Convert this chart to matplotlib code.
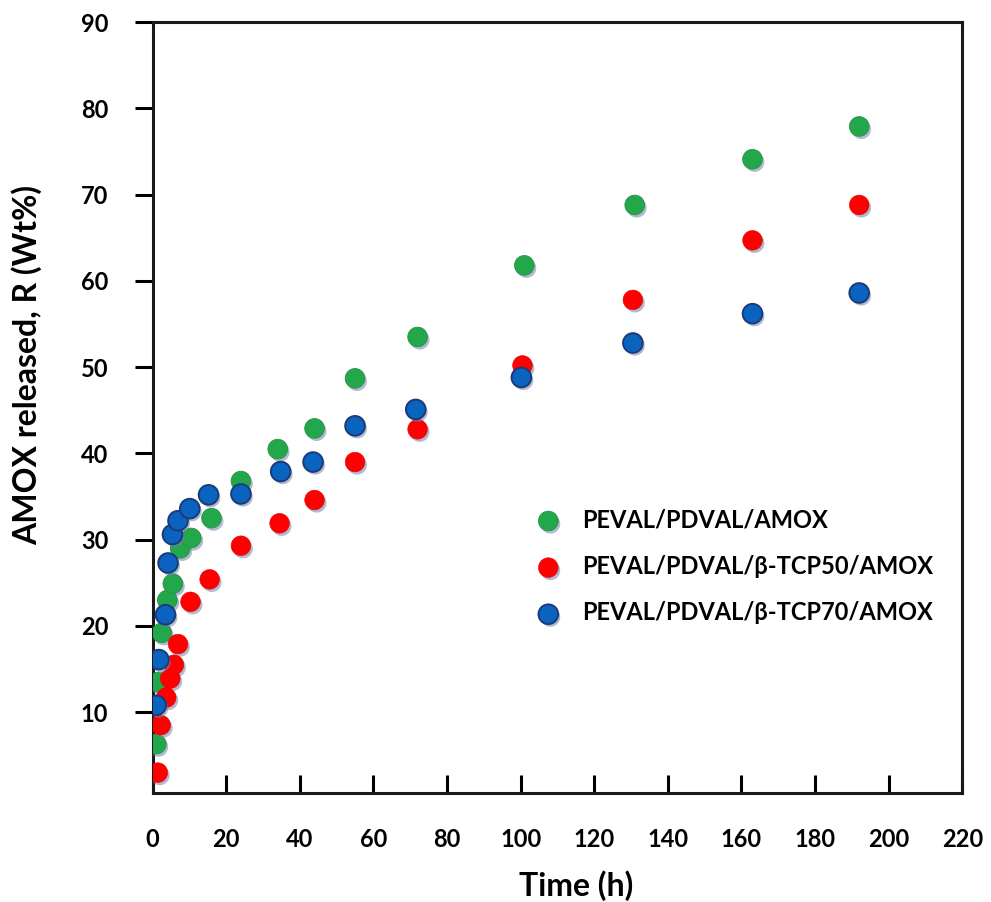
import matplotlib
matplotlib.use("Agg")
import matplotlib.pyplot as plt
import matplotlib.patheffects as pe

plt.rcParams['font.family'] = ['Lato', 'DejaVu Sans']
plt.rcParams['font.weight'] = 'bold'

# release data (time in h, AMOX released in wt%)
t_green = [1, 1.5, 2.5, 4, 5.5, 7.5, 10.5, 16, 24, 34, 44, 55, 72, 101, 131, 163, 192]
r_green = [6.3, 13.5, 19.2, 23.0, 24.9, 29.0, 30.2, 32.5, 36.8, 40.5, 42.9, 48.7, 53.5, 61.8, 68.8, 74.1, 77.9]

t_red = [1.4, 2.2, 3.7, 4.8, 5.8, 6.9, 10.3, 15.5, 24, 34.5, 44, 55, 72, 100.5, 130.5, 163, 192]
r_red = [3.0, 8.5, 11.7, 13.9, 15.5, 17.9, 22.8, 25.4, 29.3, 31.9, 34.6, 39.0, 42.8, 50.2, 57.8, 64.7, 68.8]

t_blue = [1.0, 1.7, 3.5, 4.2, 5.4, 6.9, 10.1, 15.2, 24, 34.8, 43.6, 55, 71.5, 100.2, 130.5, 163, 192]
r_blue = [10.8, 16.1, 21.3, 27.3, 30.6, 32.2, 33.6, 35.2, 35.3, 37.9, 39.0, 43.2, 45.1, 48.8, 52.8, 56.2, 58.6]

labels = ['PEVAL/PDVAL/AMOX',
          'PEVAL/PDVAL/\u03b2-TCP50/AMOX',
          'PEVAL/PDVAL/\u03b2-TCP70/AMOX']
x_ticks = list(range(0, 221, 20))
y_ticks = list(range(10, 91, 10))

fig = plt.figure(figsize=(9.91, 9.02), dpi=100)
ax = fig.add_axes([0.154, 0.1205, 0.817, 0.855])

shadow = [pe.SimplePatchShadow(offset=(1.5, -2), shadow_rgbFace='#6f82aa', alpha=0.55), pe.Normal()]
series = [
    (t_green, r_green, '#22a84a', '#2b8f45', 0.6),
    (t_red, r_red, '#ff0000', '#e60000', 0.4),
    (t_blue, r_blue, '#0b63c0', '#1a3a78', 1.4),
]
handles = []
for (t, r, fc, ec, lw), lab in zip(series, labels):
    sc = ax.scatter(t, r, s=200, c=fc, edgecolors=ec, linewidths=lw, label=lab,
                    path_effects=shadow, zorder=3)
    handles.append(sc)

ax.set_xlim(0, 220)
ax.set_ylim(0.6, 90)
ax.set_xticks(x_ticks)
ax.set_yticks(y_ticks)

for s in ax.spines.values():
    s.set_linewidth(2.2)
    s.set_color('#1a1a1a')

ax.tick_params(axis='x', direction='in', length=13, width=2.2, pad=25, labelsize=17)
ax.tick_params(axis='y', direction='out', length=13, width=2.2, pad=19, labelsize=17)
for lbl in ax.get_xticklabels() + ax.get_yticklabels():
    lbl.set_fontweight('bold')

ax.set_xlabel('Time (h)', fontsize=23, fontweight='bold')
ax.set_ylabel('AMOX released, R (Wt%)', fontsize=23, fontweight='bold')
ax.xaxis.set_label_coords(0.523, -0.1)
ax.yaxis.set_label_coords(-0.137, 0.555)

leg = ax.legend(handles=handles, loc='upper left', bbox_to_anchor=(0.445, 0.385),
                frameon=False, fontsize=17, handletextpad=0.44, labelspacing=1.0,
                scatterpoints=1, borderpad=0)
for h in leg.legend_handles:
    h.set_path_effects(shadow)
for txt in leg.get_texts():
    txt.set_fontweight('bold')

fig.savefig('out.png', dpi=100)
